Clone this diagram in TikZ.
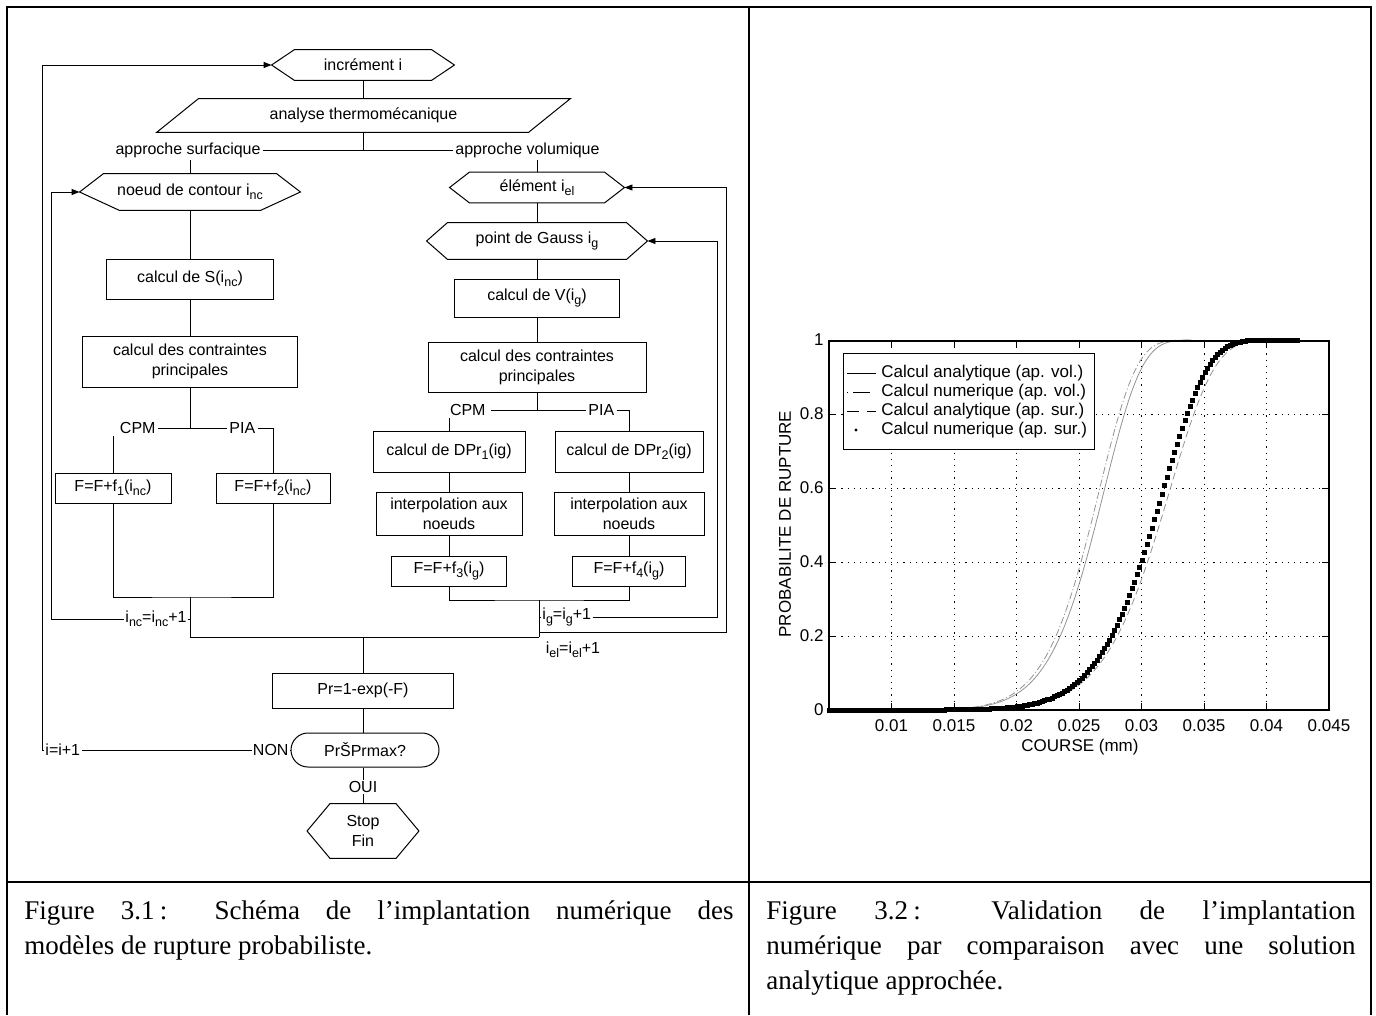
\documentclass[tikz,border=0pt]{standalone}
\usepackage{fontspec}
\setmainfont{Liberation Sans}
\newfontfamily\capfont{Liberation Serif}
\usetikzlibrary{arrows.meta,plotmarks}
\newcommand\sbs[1]{\raisebox{-0.27em}{\fontsize{12.5}{13}\selectfont #1}}
\newcommand\hexa[3]{\draw[shapeline] (#1.west) -- ([xshift=#2]#1.north west) -- ([xshift=-#2]#1.north east) -- (#1.east) -- ([xshift=-#3]#1.south east) -- ([xshift=#3]#1.south west) -- cycle;}
\newcommand\px[1]{829+((#1)-5)*12.5}
\newcommand\py[1]{710-370*(#1)}
\begin{document}
\begin{tikzpicture}[x=1pt,y=-1pt, line width=0.9pt,
  every node/.style={font=\fontsize{16}{20}\selectfont},
  shapeline/.style={line width=1pt, line join=miter},
  box/.style={draw, line width=1pt, inner sep=0pt, align=center},
  hexn/.style={inner sep=0pt, align=center},
  lbl/.style={inner sep=2pt},
  arr/.style={-{Triangle[length=8pt,width=6pt]}},
  pf/.style={font=\fontsize{17}{19}\selectfont, inner sep=0pt},
  gridl/.style={line width=0.9pt, dash pattern=on 1.2pt off 5pt},
  capt/.style={font=\capfont\fontsize{27}{35}\selectfont, align=justify, inner sep=0pt, anchor=north west},
  declare function={wb(\u,\s)=1-exp(-min((\u/\s)^10,15));}
]
\useasboundingbox (0,0) rectangle (1376,1015);
% table frame
\draw[line width=2.2pt] (7,1015) -- (7,7) -- (1371,7) -- (1371,1015);
\draw[line width=2.2pt] (749,7) -- (749,1015);
\draw[line width=2.2pt] (7,882) -- (1371,882);

% ---------------- flowchart ----------------
\node[hexn, minimum width=182pt, minimum height=30pt] (inc) at (363,65) {incrément i};
\hexa{inc}{23pt}{23pt}
\node[hexn, minimum width=413pt, minimum height=33pt] (para) at (363.5,115.5) {analyse thermomécanique};
\draw[shapeline] ([xshift=42pt]para.north west) -- (para.north east) -- ([xshift=-42pt]para.south east) -- (para.south west) -- cycle;
\draw (inc.south) -- (inc.south |- para.north);
\node[lbl, anchor=east] (surf) at (263,150) {approche surfacique};
\node[lbl, anchor=west] (vol) at (453,150) {approche volumique};
\coordinate (split) at (363.5,150);
\draw (para.south) -- (split);
\draw (surf.east) -- (vol.west);

% left branch
\node[hexn, minimum width=220pt, minimum height=36pt] (noeud) at (190,192) {noeud de contour i\sbs{nc}};
\hexa{noeud}{24pt}{40pt}
\draw (noeud.north) -- (noeud.north |- surf.south);
\node[box, minimum width=167pt, minimum height=40pt] (S) at (190,279) {calcul de S(i\sbs{nc})};
\draw (noeud.south) -- (S.north);
\node[box, minimum width=215pt, minimum height=51pt] (cL) at (190,361.5) {calcul des contraintes\\principales};
\draw (S.south) -- (cL.north);
\coordinate (jL) at (190,428);
\draw (cL.south) -- (jL);
\node[lbl, anchor=east] (cpmL) at (158,428) {CPM};
\node[lbl, anchor=west] (piaL) at (227,428) {PIA};
\draw (cpmL.east) -- (piaL.west);
\node[box, minimum width=116pt, minimum height=30pt] (F1) at (113,488) {F=F+f\sbs{1}(i\sbs{nc})};
\node[box, minimum width=114pt, minimum height=30pt] (F2) at (273,488) {F=F+f\sbs{2}(i\sbs{nc})};
\draw (piaL.east) -| (F2.north);
\draw (F1.north) -- (F1.north |- cpmL.south);
\coordinate (mL) at (190,597);
\draw (F1.south) |- (mL) -| (F2.south);
\coordinate (botL) at (190,637);
\draw (mL) -- (botL);

% right branch
\node[hexn, minimum width=174pt, minimum height=30pt] (elem) at (537,187.5) {élément i\sbs{el}};
\hexa{elem}{20pt}{20pt}
\draw (elem.north) -- (elem.north |- vol.south);
\node[hexn, minimum width=220pt, minimum height=36pt] (gauss) at (537,241) {point de Gauss i\sbs{g}};
\hexa{gauss}{21pt}{21pt}
\draw (elem.south) -- (gauss.north);
\node[box, minimum width=165pt, minimum height=38pt] (V) at (537,298) {calcul de V(i\sbs{g})};
\draw (gauss.south) -- (V.north);
\node[box, minimum width=218pt, minimum height=50pt] (cR) at (537,367) {calcul des contraintes\\principales};
\draw (V.south) -- (cR.north);
\coordinate (jR) at (537,410);
\draw (cR.south) -- (jR);
\node[lbl, anchor=east, inner xsep=5pt] (cpmR) at (491,410) {CPM};
\node[lbl, anchor=west] (piaR) at (586,410) {PIA};
\draw (cpmR.east) -- (piaR.west);
\node[box, minimum width=152pt, minimum height=41pt] (D1) at (449,451.5) {calcul de DPr\sbs{1}(ig)};
\node[box, minimum width=148pt, minimum height=41pt] (D2) at (629,451.5) {calcul de DPr\sbs{2}(ig)};
\draw (piaR.east) -| (D2.north);
\draw (D1.north) -- (D1.north |- cpmR.south);
\node[box, minimum width=146pt, minimum height=43pt] (I1) at (449,513.5) {interpolation aux\\noeuds};
\node[box, minimum width=150pt, minimum height=43pt] (I2) at (629,513.5) {interpolation aux\\noeuds};
\draw (D1.south) -- (I1.north);
\draw (D2.south) -- (I2.north);
\node[box, minimum width=115pt, minimum height=30pt] (F3) at (449,571) {F=F+f\sbs{3}(i\sbs{g})};
\node[box, minimum width=113pt, minimum height=30pt] (F4) at (629,571) {F=F+f\sbs{4}(i\sbs{g})};
\draw (I1.south) -- (F3.north);
\draw (I2.south) -- (F4.north);
\coordinate (mR) at (539,600);
\draw (F3.south) |- (mR) -| (F4.south);
\coordinate (botR) at (539,637);
\draw (mR) -- (botR);
\draw (botL) -- (botR);

% loops
\coordinate (ncv) at (190,619);
\node[inner sep=1pt, anchor=east] (ncl) at (188,619) {i\sbs{nc}=i\sbs{nc}+1};
\draw (ncv) -- (ncl.east);
\coordinate (ncx) at (51,192);
\draw[arr] (ncl.west) -| (ncx) -- (noeud.west);
\coordinate (igv) at (539,617);
\node[inner sep=1pt, anchor=west] (igl) at (541,617) {i\sbs{g}=i\sbs{g}+1};
\draw (igv) -- (igl.west);
\coordinate (igx) at (717,241);
\draw[arr] (igl.east) -| (igx) -- (gauss.east);
\coordinate (elv) at (539,632);
\coordinate (elx) at (726,187.5);
\draw[arr] (elv) -| (elx) -- (elem.east);
\node[inner sep=0pt] (ell) at (573,650) {i\sbs{el}=i\sbs{el}+1};

% bottom
\coordinate (botC) at (363,637);
\node[box, minimum width=181pt, minimum height=35pt] (Pr) at (363,690.5) {Pr=1-exp(-F)};
\draw (botC) -- (Pr.north);
\node[draw, line width=1pt, rounded corners=17pt, minimum width=148pt, minimum height=34pt, inner sep=0pt] (test) at (365,750) {PrŠPrmax?};
\draw (Pr.south) -- (Pr.south |- test.north);
\node[inner sep=1pt, anchor=east] (non) at (290,750) {NON};
\draw (non.east) -- (test.west);
\node[inner sep=1pt, anchor=west] (iinc) at (44,750) {i=i+1};
\draw (non.west) -- (iinc.east);
\coordinate (Lx) at (42,65);
\draw[arr] (iinc.west) -| (Lx) -- (inc.west);
\node[inner sep=1pt] (oui) at (363,787) {OUI};
\draw (Pr.south |- test.south) -- (oui.north);
\node[hexn, minimum width=111pt, minimum height=54pt] (stop) at (363,831) {Stop\\Fin};
\hexa{stop}{23pt}{23pt}
\draw (oui.south) -- (stop.north);

% ---------------- plot ----------------
\foreach \u in {10,15,20,25,30,35,40} {
  \draw[gridl] ({\px{\u}},341) -- ({\px{\u}},710);
  \draw[line width=1pt] ({\px{\u}},710) -- ({\px{\u}},703);
  \draw[line width=1pt] ({\px{\u}},341) -- ({\px{\u}},348);
}
\foreach \p in {0.2,0.4,0.6,0.8} {
  \draw[gridl] (829,{\py{\p}}) -- (1329,{\py{\p}});
  \draw[line width=1pt] (829,{\py{\p}}) -- (836,{\py{\p}});
  \draw[line width=1pt] (1329,{\py{\p}}) -- (1322,{\py{\p}});
}
\draw[gray!85, line width=0.8pt] plot[domain=5:34, samples=160, smooth] ({\px{\x}},{\py{wb(\x,27.3)}});
\draw[gray!85, line width=0.8pt, dash pattern=on 7pt off 2.5pt on 1pt off 2.5pt] plot[domain=5:34, samples=160, smooth] ({\px{\x}},{\py{wb(\x,26.9)}});
\draw[gray!85, line width=0.8pt, dash pattern=on 7pt off 4pt] plot[domain=5:42.5, samples=180, smooth] ({\px{\x}},{\py{wb(\x,32.6)}});
\fill plot[only marks, mark=square*, mark size=2pt, domain=5:42.5, samples=188] ({\px{\x}},{\py{wb(\x,32.1)}});
\draw[line width=1.2pt] (829,341) rectangle (1329,710);
\foreach \u/\t in {10/0.01,15/0.015,20/0.02,25/0.025,30/0.03,35/0.035,40/0.04,45/0.045}
  \node[pf] (xt\u) at ({\px{\u}},726) {\t};
\foreach \p/\t [count=\k] in {0/0,0.2/0.2,0.4/0.4,0.6/0.6,0.8/0.8,1/1}
  \node[pf, anchor=east] (yt\k) at (824,{\py{\p}}) {\t};
\node[pf] (xlab) at (1080,747) {COURSE (mm)};
\node[pf, rotate=90] (ylab) at (785,524) {PROBABILITE DE RUPTURE};
% legend
\node[draw, fill=white, line width=1pt, minimum width=251pt, minimum height=96pt, anchor=north west, inner sep=0pt] (leg) at (843,353) {};
\draw[line width=0.9pt] (847,373) -- (876,373);
\draw[line width=0.9pt, dash pattern=on 1pt off 5pt on 17pt off 20pt] (847,392) -- (876,392);
\draw[line width=0.9pt, dash pattern=on 12pt off 8pt on 9pt off 20pt] (847,411) -- (876,411);
\fill (856,430) circle (1.7pt);
\node[pf, anchor=west] (l1) at (881,373) {Calcul analytique (ap. vol.)};
\node[pf, anchor=west] (l2) at (881,392) {Calcul numerique (ap. vol.)};
\node[pf, anchor=west] (l3) at (881,411) {Calcul analytique (ap. sur.)};
\node[pf, anchor=west] (l4) at (881,430) {Calcul numerique (ap. sur.)};

% ---------------- captions ----------------
\node[capt, text width=709pt] (cap1) at (24,900) {Figure 3.1\hspace{0.2em}: Schéma de l’implantation numérique des\linebreak modèles de rupture probabiliste.};
\node[capt, text width=589pt] (cap2) at (766,900) {Figure 3.2\hspace{0.2em}: Validation de l’implantation\linebreak numérique par comparaison avec une solution\linebreak analytique approchée.};
\end{tikzpicture}
\end{document}
